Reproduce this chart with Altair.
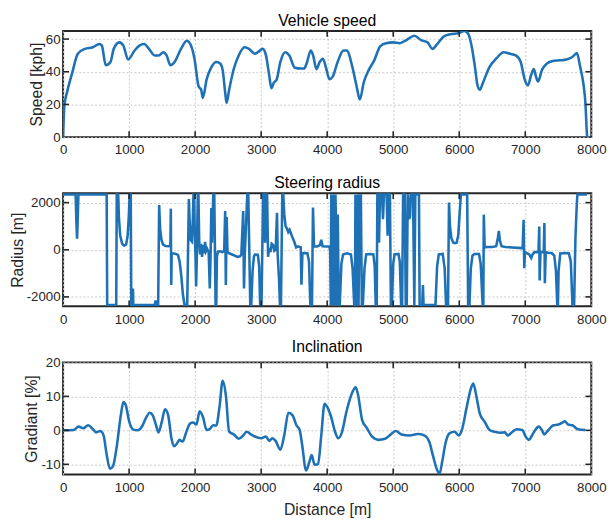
import altair as alt
import pandas as pd

# ---------------- data ----------------
speed_dist = [0, 19, 63, 136, 223, 330, 451, 549, 587, 646, 718, 767, 854, 913, 985, 1083, 1155, 1228,
              1301, 1388, 1447, 1519, 1568, 1626, 1689, 1786, 1874, 1932, 1990, 2053, 2092, 2117, 2175,
              2248, 2320, 2379, 2417, 2456, 2476, 2515, 2587, 2660, 2748, 2816, 2903, 2951, 3024, 3073,
              3121, 3155, 3194, 3233, 3291, 3364, 3427, 3510, 3607, 3653, 3688, 3752, 3787, 3837, 3886,
              3936, 3985, 4035, 4084, 4158, 4248, 4297, 4381, 4446, 4495, 4554, 4629, 4713, 4802, 4891,
              5000, 5099, 5198, 5322, 5421, 5520, 5594, 5668, 5767, 5866, 5990, 6079, 6139, 6188, 6238,
              6277, 6312, 6361, 6460, 6559, 6673, 6772, 6856, 6931, 6990, 7040, 7089, 7129, 7163, 7193,
              7252, 7327, 7416, 7525, 7624, 7713, 7782, 7832, 7881, 7911, 7936, 7940]
speed_kph = [0, 19, 28, 39, 51, 54, 55, 57, 56, 44, 46, 54, 58, 56, 47.5, 53, 56, 57,
             54, 50, 50, 52, 50, 44, 46, 54, 59, 56.5, 48, 31, 29, 24, 35.5,
             43, 46, 45, 41, 27, 21, 29, 42, 50, 55, 54, 51, 52, 54, 50,
             38, 30, 33.5, 35, 46, 52, 50, 42.5, 42, 42, 45, 53, 50, 41.6, 46,
             48, 42, 35.5, 37, 46, 53, 53, 43, 31, 23, 33.5, 41, 47, 55.6, 57.5,
             58, 57.5, 59.4, 62, 59.4, 58, 54, 57, 61.7, 63, 63.6, 65, 63, 55.6, 43,
             31.6, 29, 33.5, 43, 48, 52, 51, 50, 46, 35.5, 31.6, 38, 41.6, 37, 34,
             41, 45, 46.6, 47, 47.5, 49, 51.4, 43, 32.6, 21, 1, 0]

radius_dist = [0, 190, 200, 212, 222, 232, 660, 668, 805, 813, 835, 845, 865, 895, 925, 955, 978, 995,
               1008, 1025, 1033, 1052, 1058, 1064, 1390, 1400, 1410, 1440, 1455, 1470, 1490, 1515, 1550,
               1600, 1625, 1632, 1638, 1645, 1700, 1740, 1765, 1790, 1815, 1840, 1880, 1905, 1920, 1935,
               1950, 1965, 1975, 1985, 1995, 2005, 2015, 2025, 2040, 2050, 2062, 2075, 2090, 2105, 2120,
               2135, 2150, 2165, 2180, 2205, 2222, 2235, 2245, 2255, 2275, 2290, 2310, 2320, 2330, 2345,
               2380, 2410, 2440, 2455, 2465, 2478, 2490, 2515, 2560, 2600, 2640, 2680, 2700, 2728, 2740,
               2752, 2790, 2805, 2835, 2850, 2870, 2890, 2905, 2950, 2970, 2985, 3005, 3030, 3045, 3060,
               3075, 3090, 3105, 3120, 3140, 3160, 3180, 3200, 3220, 3240, 3250, 3270, 3285, 3300, 3320,
               3335, 3350, 3370, 3390, 3410, 3430, 3450, 3470, 3500, 3530, 3560, 3600, 3610, 3625, 3650,
               3700, 3725, 3745, 3770, 3785, 3800, 3850, 3890, 3910, 3930, 3980, 4030, 4045, 4055, 4062,
               4072, 4085, 4095, 4105, 4115, 4125, 4135, 4145, 4160, 4175, 4190, 4215, 4240, 4300, 4360,
               4385, 4410, 4420, 4428, 4436, 4445, 4455, 4465, 4475, 4490, 4500, 4510, 4525, 4540, 4565,
               4590, 4650, 4700, 4720, 4735, 4750, 4760, 4775, 4785, 4800, 4830, 4845, 4860, 4900, 4915,
               4930, 4950, 4965, 4980, 5000, 5020, 5080, 5100, 5120, 5135, 5150, 5175, 5190, 5205, 5220,
               5240, 5255, 5265, 5300, 5320, 5335, 5390, 5400, 5440, 5450, 5460, 5640, 5665, 5690, 5750,
               5780, 5800, 5830, 5845, 5860, 5880, 5910, 5935, 5960, 5985, 6005, 6025, 6120, 6135, 6155,
               6175, 6200, 6230, 6300, 6325, 6355, 6365, 6372, 6385, 6420, 6500, 6560, 6585, 6600, 6615,
               6640, 6700, 6800, 6900, 6960, 6975, 6985, 6995, 7030, 7060, 7090, 7110, 7140, 7200, 7212,
               7218, 7230, 7280, 7290, 7297, 7310, 7340, 7400, 7440, 7465, 7485, 7495, 7505, 7530, 7600,
               7660, 7690, 7715, 7740, 7760, 7780, 7790, 7935]
radius_m = [2350, 2350, 1300, 470, 1300, 2350, 2350, -2350, -2350, 2350, 2350, 1400, 600, 250, 170, 220, 600, 1400,
            2350, 2350, -2350, -2350, -1650, -2350, -2350, -2150, -2350, -2350, 1900, 900, 420, 220, 160,
            150, 200, 1745, -1490, -150, -170, -220, -500, -1100, -1900, -2350, -2350, 2150, 1000, 400,
            350, 1300, 2350, 2350, 600, -200, -1560, -400, 2350, 2350, 300, -200, 250, -300, 200,
            -150, 330, -50, 50, -100, -1640, -100, 1770, 300, 2350, 2350, -2350, -2350, -300, -80,
            -70, -100, -60, 1640, -1500, 1390, -100, -150, -200, -250, -300, -280, -200, 1640, -1645,
            -200, 2350, 2350, -2350, -2350, -900, -300, -200, -210, -700, -2350, -2350, 2350, 2350, 300,
            2350, 2350, -300, 80, -100, 250, 200, -50, 0, 1570, -200, -1200, -2350, -2350, 2350,
            2350, 1500, 1000, 900, 750, 850, 700, 550, 350, 100, 140, 100, -1480, -150, -140,
            -150, -500, -2350, -2350, 1790, 150, 140, 200, 420, 150, 140, 140, 0, -2350, 2350,
            -2350, 2350, -2350, 2350, -2350, 2350, 900, -2350, 1500, -2350, -2350, -600, -200, -150, -200,
            -800, -2350, -2350, 2350, -2350, 2350, -2350, 2350, -2350, 2350, 800, 2350, -2350, -2350, -800,
            -200, -180, -200, -700, -2350, -2350, 2350, 2350, 300, 2350, 2350, 1300, 2350, 2350, 600,
            2350, 2350, -2350, -2350, -600, -200, -180, -500, -2350, -2350, 2350, 2350, -2350, -2350, 2350,
            1300, 1400, 2350, 2350, -2350, 2350, 2350, -2350, -2350, -1500, -2350, -2350, -700, -200, -180,
            -800, -2350, -2350, 2000, 1000, 500, 300, 280, 300, 600, 1500, 2350, 2350, -2350, -2350,
            -800, -250, -180, -180, -600, -2350, -2350, 1490, 100, 120, 120, 150, 500, 800, 400,
            150, 120, 100, 80, 60, 1270, -780, -100, -150, -200, -350, -200, -100, -100, 990,
            -1300, -100, -100, 1134, -1418, -100, -130, -140, -250, -900, -2350, -2350, -900, -160, -140,
            -150, -500, -2350, -2350, 500, 1900, 2350, 2350]

grad_dist = [0, 160, 233, 306, 379, 451, 500, 563, 612, 660, 709, 757, 816, 874, 913, 951, 1000, 1058,
             1131, 1194, 1252, 1311, 1359, 1408, 1447, 1495, 1544, 1592, 1641, 1680, 1728, 1762, 1811,
             1859, 1922, 1971, 2019, 2068, 2117, 2175, 2223, 2272, 2320, 2369, 2417, 2466, 2515, 2587,
             2660, 2733, 2782, 2845, 2903, 3000, 3073, 3121, 3170, 3218, 3291, 3350, 3413, 3476, 3534,
             3583, 3621, 3680, 3733, 3765, 3810, 3861, 3911, 3960, 4000, 4059, 4119, 4168, 4218, 4297,
             4381, 4431, 4465, 4530, 4604, 4678, 4777, 4876, 4950, 5040, 5124, 5248, 5371, 5470, 5545,
             5604, 5668, 5703, 5743, 5792, 5851, 5931, 5990, 6040, 6114, 6178, 6213, 6262, 6312, 6386,
             6460, 6535, 6624, 6693, 6733, 6807, 6871, 6955, 7005, 7054, 7119, 7203, 7252, 7287, 7351,
             7426, 7500, 7564, 7599, 7649, 7713, 7797, 7911]
grad_pct = [0, 0.1, 1.1, 0.6, 1.5, 0.4, -0.6, -0.2, -1.4, -7.1, -11.3, -10.5, -4.3, 4.4, 8.3, 7.3, 2.7, 0.3,
            0, 1.1, 3.5, 5.2, 4.4, 1.5, -0.6, 2.5, 6.2, 4.4, -2.3, -4.7, -3.8, -2.8, -3.3,
            -0.9, 2, 2.3, 1.7, 5.6, 4, 0.1, 0.4, 1.5, 1.4, 6.9, 14.6, 10.2, -0.4, -1.2,
            -2.5, -1.4, -0.4, -1.2, -1.8, -2.3, -1.8, -3.1, -2.3, -3.1, -5.7, -1.4, 5.2, 4.4, 1.5,
            0.1, -4.3, -11.8, -9.1, -7.3, -10.1, -10, -1.4, 7.8, 6.9, 4, -0.4, -2.3, -0.9, 5.9,
            11.2, 12.7, 10.7, 3, 0.6, -1.8, -2.8, -2.5, -1.4, -0.2, -1.2, -1.5, -1.1, -1.5, -3.3,
            -7.6, -11.8, -12.7, -9.1, -3.8, -0.9, -0.4, -1.5, 0.1, 6.9, 12.4, 13.8, 9.8, 4.9, 2.5,
            0.1, -0.4, -0.7, -0.6, -1.5, -0.4, 0.3, 0.1, -1.8, -2.8, -0.9, 1.1, 0.1, -1.2, 0.1,
            1.5, 1.7, 2.3, 2.7, 1.7, 1.5, 0.3, 0.1]

x_ticks = [0, 1000, 2000, 3000, 4000, 5000, 6000, 7000, 8000]
speed_ticks = [0, 20, 40, 60]
radius_ticks = [-2000, 0, 2000]
grad_ticks = [-10, 0, 10, 20]

# ---------------- style ----------------
LINE = "#1f71b5"
FRAME = "#262626"
FONT = "Liberation Sans"
W = 537
TICK = 6
HYPHEN_MINUS = "replace(datum.label, '\u2212', '-')"


def panel(dist, vals, ytitle, domain, yticks, title, h, interp, xtitle=False):
    df = pd.DataFrame({"d": dist, "v": vals})
    xscale = alt.Scale(domain=[0, 8000], nice=False, zero=False)
    yscale = alt.Scale(domain=domain, nice=False, zero=False)
    xaxis = alt.Axis(values=x_ticks, format="d", labelFlush=False,
                     title="Distance [m]" if xtitle else None)
    yaxis = alt.Axis(values=yticks, title=ytitle, format="d", labelFlush=False,
                     labelExpr=HYPHEN_MINUS)
    X = alt.X("d:Q", scale=xscale, axis=xaxis)
    Y = alt.Y("v:Q", scale=yscale, axis=yaxis)
    line = alt.Chart(df).mark_line(color=LINE, strokeWidth=2.6, interpolate=interp, clip=True).encode(
        x=X, y=Y)
    inner_x = pd.DataFrame({"d": x_ticks[1:-1]})
    inner_y = pd.DataFrame({"v": [t for t in yticks if domain[0] < t < domain[1]]})
    rule = dict(color=FRAME, strokeWidth=1.6)
    top_t = alt.Chart(inner_x).mark_rule(**rule).encode(x=X, y=alt.value(0), y2=alt.value(TICK))
    bot_t = alt.Chart(inner_x).mark_rule(**rule).encode(x=X, y=alt.value(h), y2=alt.value(h - TICK))
    left_t = alt.Chart(inner_y).mark_rule(**rule).encode(y=Y, x=alt.value(0), x2=alt.value(TICK))
    right_t = alt.Chart(inner_y).mark_rule(**rule).encode(y=Y, x=alt.value(W - TICK), x2=alt.value(W))
    return alt.layer(line, top_t, bot_t, left_t, right_t).properties(
        width=W, height=h,
        title=alt.TitleParams(title, font=FONT, fontSize=16, fontWeight="normal",
                              color="#000000", anchor="middle", offset=1),
    )


p1 = panel(speed_dist, speed_kph, "Speed [kph]", [0, 65], speed_ticks, "Vehicle speed", 108, "monotone")
p2 = panel(radius_dist, radius_m, "Radius [m]", [-2400, 2400], radius_ticks, "Steering radius", 115, "linear")
p3 = panel(grad_dist, grad_pct, "Gradiant [%]", [-13, 20], grad_ticks, "Inclination", 114, "monotone",
           xtitle=True)

chart = alt.vconcat(p1, p2, p3, spacing=57, bounds="flush").properties(
    padding={"left": 0, "top": 0, "right": 0, "bottom": 0}
).configure_view(
    stroke=FRAME, strokeWidth=2
).configure_axis(
    grid=True, gridColor="#c4c4c4", gridDash=[2, 2], gridWidth=0.9,
    ticks=False, domain=False,
    labelFont=FONT, labelFontSize=13.5, labelColor="#262626",
    titleFont=FONT, titleFontSize=16, titleFontWeight="normal", titleColor="#262626",
).configure_axisX(
    labelPadding=6, titlePadding=8
).configure_axisY(
    labelPadding=3, titlePadding=1
)

chart.save("out.html", embed_options={"renderer": "svg", "actions": False})
